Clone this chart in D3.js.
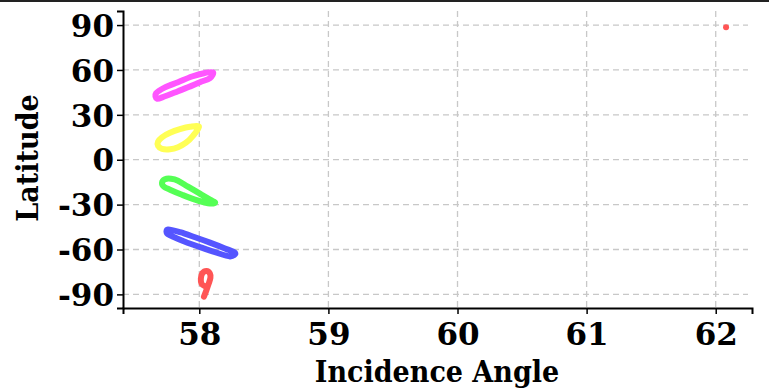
<!DOCTYPE html>
<html><head><meta charset="utf-8">
<script src="https://cdn.jsdelivr.net/npm/d3@7"></script>
<style>body{margin:0;background:#fff}svg{display:block}</style>
</head><body>
<svg id="c" width="769" height="390"></svg>
<script>
const xTicks = [58, 59, 60, 61, 62];
const yTicks = [-90, -60, -30, 0, 30, 60, 90];
const xLabel = "Incidence Angle";
const yLabel = "Latitude";

const magenta = [[57.665,44.4],[57.734,48.4],[57.835,51.8],[57.943,55.6],[58.044,58.0],[58.106,58.4],[58.083,54.6],[58.005,51.8],[57.912,48.4],[57.835,45.8],[57.734,42.4],[57.672,40.8]];
const yellow = [[57.998,22.0],[57.928,22.0],[57.850,20.4],[57.773,18.0],[57.711,15.0],[57.680,12.0],[57.680,9.4],[57.711,7.3],[57.773,7.0],[57.835,8.4],[57.897,11.4],[57.951,16.0]];
const green = [[57.711,-15.4],[57.734,-13.0],[57.781,-12.7],[57.835,-14.0],[57.912,-18.0],[58.005,-22.7],[58.083,-26.7],[58.122,-28.7],[58.067,-29.1],[57.967,-26.7],[57.866,-23.4],[57.773,-20.0],[57.727,-18.0]];
const blue = [[57.758,-46.6],[57.851,-48.4],[57.967,-51.8],[58.083,-55.4],[58.199,-59.3],[58.277,-62.3],[58.238,-64.6],[58.122,-61.8],[58.005,-58.4],[57.889,-54.8],[57.789,-51.1],[57.750,-49.3]];
const red = [[58.036,-91.5],[58.054,-87.5],[58.072,-83.0],[58.086,-79.0],[58.082,-76.0],[58.056,-74.3],[58.024,-75.8],[58.012,-79.5],[58.018,-83.0],[58.044,-84.6]];
const redDot = [[62.080,88.6]];

const svg = d3.select("#c");
const L = 123, R = 752, T = 11, B = 308;
const x = d3.scaleLinear().domain([57.409, 62.281]).range([L, R]);
const y = d3.scaleLinear().domain([-99.1, 99.4]).range([B, T]);
const font = "'DejaVu Serif', serif";
const fontC = "'DejaVu Serif Condensed', 'DejaVu Serif', serif";

svg.append("line").attr("x1",0).attr("x2",769).attr("y1",1).attr("y2",1).attr("stroke","#222").attr("stroke-width",2);

const g = svg.append("g");
g.selectAll(".hy").data(yTicks).join("line")
  .attr("x1", L).attr("x2", R-4).attr("y1", d=>y(d)).attr("y2", d=>y(d))
  .attr("stroke","#c8c8c8").attr("stroke-width",1.3).attr("stroke-dasharray","6,4");
g.selectAll(".vx").data(xTicks).join("line")
  .attr("y1", T).attr("y2", B).attr("x1", d=>x(d)).attr("x2", d=>x(d))
  .attr("stroke","#c8c8c8").attr("stroke-width",1.3).attr("stroke-dasharray","6,4");

const line = d3.line().x(d=>x(d[0])).y(d=>y(d[1]));
const series = [
  {d: magenta, c: "#ff55ff", closed: true},
  {d: yellow, c: "#ffff55", closed: true},
  {d: green, c: "#55ff55", closed: true},
  {d: blue, c: "#5555ff", closed: true},
  {d: red, c: "#ff5555", closed: false}
];
series.forEach(s => {
  svg.append("path").datum(s.d)
    .attr("d", line.curve(s.closed ? d3.curveCardinalClosed : d3.curveCardinal)(s.d))
    .attr("fill","none").attr("stroke", s.c).attr("stroke-width",6)
    .attr("stroke-linecap","round").attr("stroke-linejoin","round");
});
svg.selectAll(".dot").data(redDot).join("circle")
  .attr("cx", d=>x(d[0])).attr("cy", d=>y(d[1])).attr("r",3).attr("fill","#ff5555");

const xa = svg.append("g").attr("transform",`translate(0,${B})`)
  .call(d3.axisBottom(x).tickValues(xTicks).tickSize(6).tickPadding(9).tickFormat(d => String(d)));
const ya = svg.append("g").attr("transform",`translate(${L},0)`)
  .call(d3.axisLeft(y).tickValues(yTicks).tickSize(6).tickPadding(3).tickFormat(d => String(d)));
[xa, ya].forEach(a => {
  a.select(".domain").attr("stroke","#000").attr("stroke-width",2);
  a.selectAll(".tick line").attr("stroke","#000").attr("stroke-width",1.5);
  a.selectAll("text").attr("font-family", font).attr("font-weight","bold").attr("font-size",31).attr("fill","#000");
});
ya.selectAll("text").attr("dy","0.36em");

svg.append("text").attr("x", 437).attr("y", 382).attr("text-anchor","middle")
  .attr("font-family", fontC).attr("font-stretch","condensed").attr("font-weight","bold").attr("font-size",30).text(xLabel);
svg.append("text").attr("transform", `translate(38,158) rotate(-90)`).attr("text-anchor","middle")
  .attr("font-family", fontC).attr("font-stretch","condensed").attr("font-weight","bold").attr("font-size",30).text(yLabel);
</script>
</body></html>
